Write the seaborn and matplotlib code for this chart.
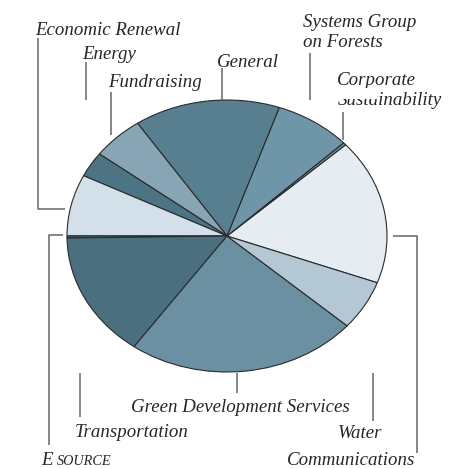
import matplotlib
matplotlib.use("Agg")
import matplotlib.pyplot as plt
from matplotlib.patches import Rectangle
import seaborn as sns

# ---- data (shares of budget, percent) ----
categories = ["Communications", "Corporate Sustainability", "Systems Group on Forests",
              "General", "Fundraising", "Energy", "Economic Renewal", "E SOURCE",
              "Transportation", "Green Development Services", "Water"]
values = [17.3, 0.3, 7.7, 14.75, 5.25, 3.0, 7.3, 0.25, 14.9, 23.4, 5.9]
slice_colors = ["#e6edf2", "#6f96a8", "#6f96a8", "#587f90", "#87a5b5", "#4c7484",
                "#d3e0ea", "#4a7080", "#4a7080", "#6a90a2", "#b3c7d5"]

sns.set_theme(style="white")
plt.rcParams["font.family"] = ["Liberation Serif", "DejaVu Serif"]

W, H = 454, 468
fig = plt.figure(figsize=(W / 100, H / 100), dpi=100)
fig.patch.set_facecolor("white")

# pie axes: ellipse centre (227,236) px, radii 160 x 136 px
cx, cy, rx, ry = 227, 236, 160, 136
ax = fig.add_axes([(cx - rx) / W, (H - (cy + ry)) / H, 2 * rx / W, 2 * ry / H])
ax.pie(values, colors=slice_colors, startangle=339.9, counterclock=True,
       wedgeprops=dict(edgecolor="#2a2a2a", linewidth=0.8))
ax.set_aspect("auto")
ax.set_xlim(-1, 1)
ax.set_ylim(-1, 1)
ax.axis("off")

# overlay axes in pixel coordinates for labels / leader lines
ov = fig.add_axes([0, 0, 1, 1], zorder=5)
ov.set_xlim(0, W)
ov.set_ylim(H, 0)
ov.axis("off")
ov.patch.set_alpha(0)

line_kw = dict(color="#666666", linewidth=1.1, solid_capstyle="butt")
leaders = [
    [(38, 38), (38, 209), (65, 209)],          # Economic Renewal
    [(86, 62), (86, 100)],                     # Energy
    [(111, 92), (111, 135)],                   # Fundraising
    [(222, 68), (222, 100)],                   # General
    [(310, 53), (310, 100)],                   # Systems Group
    [(343, 112), (343, 140)],                  # Corporate Sustainability
    [(63, 235), (49, 235), (49, 445)],         # E SOURCE
    [(80, 373), (80, 417)],                    # Transportation
    [(237, 373), (237, 393)],                  # Green Development
    [(373, 373), (373, 421)],                  # Water
    [(393, 236), (417, 236), (417, 453)],      # Communications
]
for pts in leaders:
    xs, ys = zip(*pts)
    ov.plot(xs, ys, **line_kw)

txt_kw = dict(fontsize=13.6, style="italic", color="#262626", va="baseline", ha="left")
labels = [
    (35, 35, "Economic Renewal"),
    (82, 59, "Energy"),
    (108, 87, "Fundraising"),
    (217, 67, "General"),
    (303, 27, "Systems Group"),
    (303, 47, "on Forests"),
    (337, 85, "Corporate"),
    (338, 105, "Sustainability"),
    (75, 437, "Transportation"),
    (131, 412, "Green Development Services"),
    (338, 438, "Water"),
    (287, 465, "Communications"),
]
for x, y, s in labels:
    ov.text(x, y, s, **txt_kw)

ov.text(41, 465, "E", **txt_kw)
ov.text(57, 465, "SOURCE", **{**txt_kw, "fontsize": 10.3})

# the original artwork has the top of "Sustainability" partly masked
ov.add_patch(Rectangle((336, 88), 41, 11, facecolor="white", edgecolor="none", zorder=10))

fig.savefig("out.png", dpi=100, facecolor="white")
